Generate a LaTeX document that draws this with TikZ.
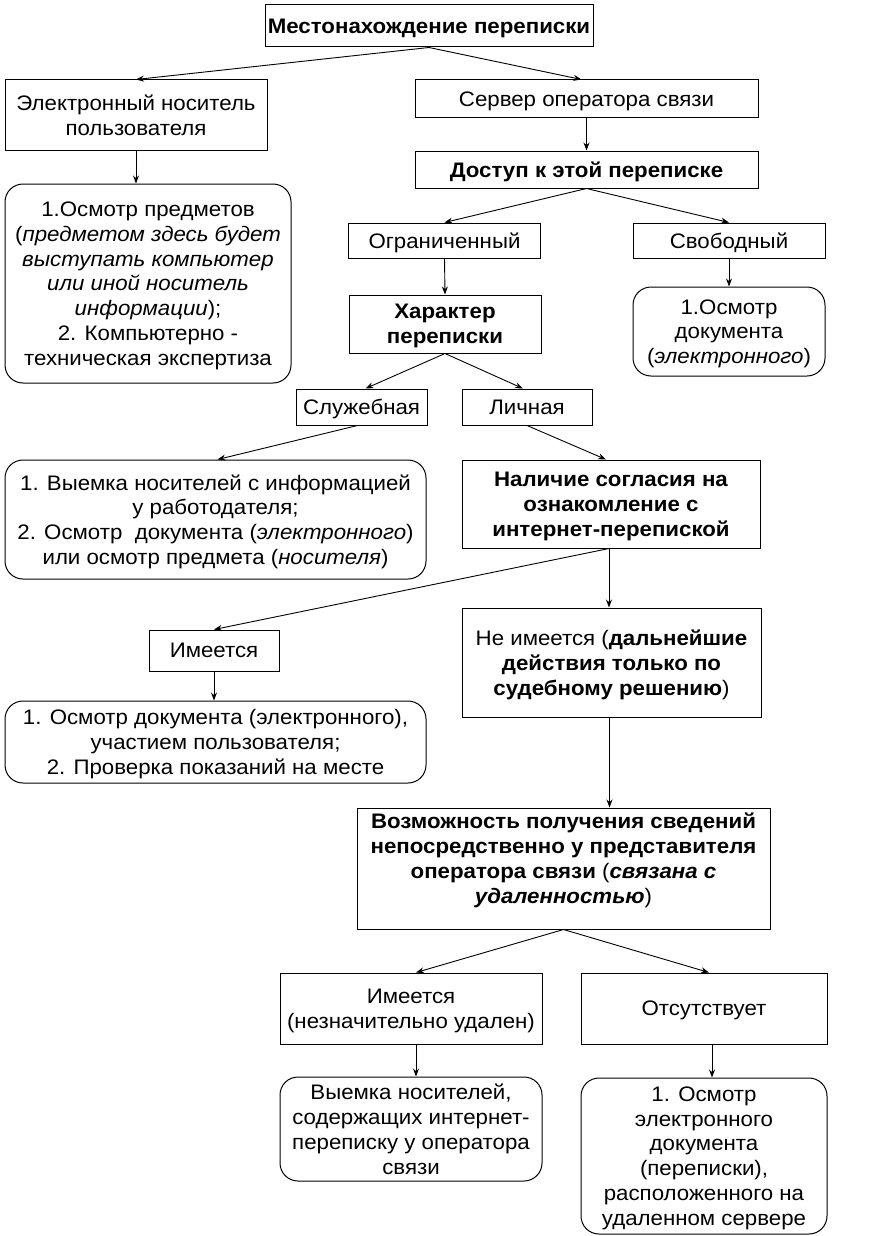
\documentclass[tikz,border=0pt]{standalone}
\usepackage{fontspec}
\setmainfont{Liberation Sans}[FakeStretch=1.06]
\usetikzlibrary{arrows.meta}
\begin{document}
\begin{tikzpicture}[x=1pt,y=-1pt,
  every node/.style={font=\fontsize{21}{24.8}\selectfont},
  box/.style={draw, line width=1pt, rectangle, align=center, inner sep=0pt, text depth=0pt},
  bbox/.style={box, font=\fontsize{21}{24.8}\selectfont\bfseries},
  rbox/.style={box, rounded corners=18pt},
  arr/.style={line width=0.9pt, -{Stealth[length=8pt,width=6pt]}}]
\useasboundingbox (0,0) rectangle (872,1236);
\node[bbox, minimum width=328pt, minimum height=42pt] (top) at (429,26) {Местонахождение переписки};
\node[box, minimum width=262pt, minimum height=70pt] (elec) at (136,115) {Электронный носитель\\пользователя};
\node[box, minimum width=343pt, minimum height=38pt] (server) at (586.5,99) {Сервер оператора связи};
\node[bbox, minimum width=343pt, minimum height=37pt] (access) at (586.5,169.5) {Доступ к этой переписке};
\node[rbox, minimum width=286pt, minimum height=199pt] (r1) at (148,283.5) {1.Осмотр предметов\\(\textit{предметом здесь будет}\\\textit{выступать компьютер}\\\textit{или иной носитель}\\\textit{информации});\\2. Компьютерно -\\техническая экспертиза};
\node[box, minimum width=192pt, minimum height=35pt] (limited) at (444.5,240.5) {Ограниченный};
\node[box, minimum width=192pt, minimum height=35pt] (free) at (729,240.5) {Свободный};
\node[bbox, minimum width=192pt, minimum height=58pt] (char) at (445,324) {Характер\\переписки};
\node[rbox, minimum width=192pt, minimum height=89pt] (r2) at (729,331.5) {1.Осмотр\\документа\\(\textit{электронного})};
\node[box, minimum width=131pt, minimum height=36pt] (sluzh) at (361.5,407) {Служебная};
\node[box, minimum width=130pt, minimum height=36pt] (lich) at (527,407) {Личная};
\node[rbox, minimum width=421pt, minimum height=119pt] (r3) at (215.5,519.5) {1. Выемка носителей с информацией\\у работодателя;\\2. Осмотр\ \ документа (\textit{электронного})\\или осмотр предмета (\textit{носителя})};
\node[bbox, minimum width=298pt, minimum height=88pt] (consent) at (611,504) {Наличие согласия на\\ознакомление с\\интернет-перепиской};
\node[box, minimum width=130pt, minimum height=41pt] (have) at (214,650.5) {Имеется};
\node[box, minimum width=299pt, minimum height=109pt] (nothave) at (611.5,662.5) {Не имеется (\textbf{дальнейшие}\\\textbf{действия только по}\\\textbf{судебному решению})};
\node[rbox, minimum width=421pt, minimum height=82pt] (r4) at (215.5,742) {1. Осмотр документа (электронного),\\участием пользователя;\\2. Проверка показаний на месте};
\node[box, minimum width=413pt, minimum height=121pt] (poss) at (563.5,868.5) {\textbf{Возможность получения сведений}\\\textbf{непосредственно у представителя}\\\textbf{оператора связи} (\textbf{\textit{связана с}}\\\textbf{\textit{удаленностью}})\\[-4pt]\mbox{}};
\node[box, minimum width=262pt, minimum height=71pt] (have2) at (411,1008.5) {Имеется\\(незначительно удален)};
\node[box, minimum width=246pt, minimum height=71pt] (absent) at (704,1008.5) {Отсутствует};
\node[rbox, minimum width=262pt, minimum height=104pt] (r5) at (411,1129) {Выемка носителей,\\содержащих интернет-\\переписку у оператора\\связи};
\node[rbox, minimum width=246pt, minimum height=156pt] (r6) at (704,1156) {1. Осмотр\\электронного\\документа\\(переписки),\\расположенного на\\удаленном сервере};
% connectors
\draw[arr] (top.south) -- (elec.north);
\draw[arr] (top.south) -- ([xshift=-5pt]server.north);
\draw[arr] (elec.south) -- (elec.south |- r1.north);
\draw[arr] (server.south) -- (access.north);
\draw[arr] (access.south) -- (limited.north);
\draw[arr] (access.south) -- (free.north);
\draw[arr] (limited.south) -- (char.north);
\draw[arr] (free.south) -- (r2.north);
\draw[arr] (char.south) -- ([xshift=4pt]sluzh.north);
\draw[arr] (char.south) -- ([xshift=-4pt]lich.north);
\draw[arr] ([xshift=-4pt]sluzh.south) -- ([xshift=2pt]r3.north);
\draw[arr] (lich.south) -- ([xshift=-5pt]consent.north);
\draw[arr] ([xshift=-2pt]consent.south) -- (have.north);
\draw[arr] ([xshift=-2pt]consent.south) -- ([xshift=-2pt]consent.south |- nothave.north);
\draw[arr] (have.south) -- (have.south |- r4.north);
\draw[arr] ([xshift=-2pt]nothave.south) -- ([xshift=-2pt]nothave.south |- poss.north);
\draw[arr] (poss.south) -- ([xshift=5pt]have2.north);
\draw[arr] (poss.south) -- ([xshift=5pt]absent.north);
\draw[arr] ([xshift=5pt]have2.south) -- ([xshift=5pt]r5.north);
\draw[arr] ([xshift=8pt]absent.south) -- ([xshift=8pt]r6.north);
\end{tikzpicture}
\end{document}
